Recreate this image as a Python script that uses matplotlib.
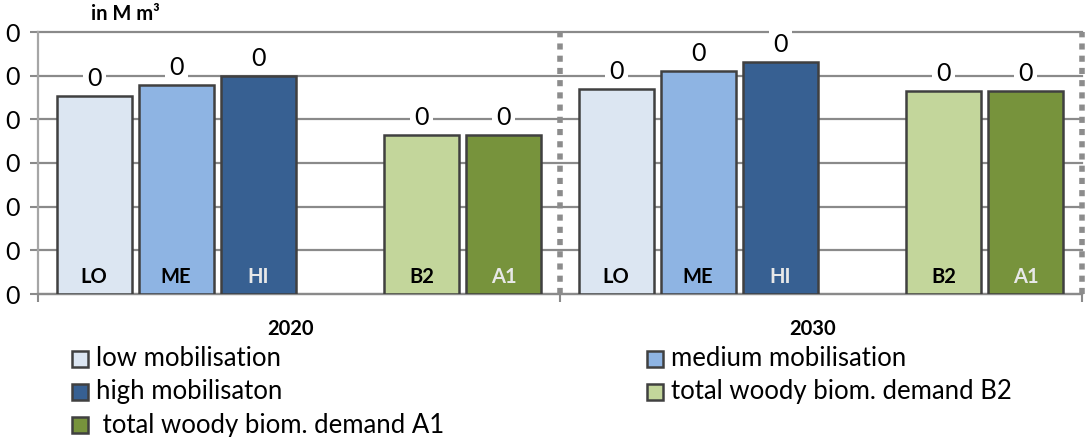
import matplotlib
matplotlib.use("Agg")
import matplotlib.pyplot as plt
from matplotlib.patches import Rectangle

plt.rcParams['font.family'] = ['Lato', 'DejaVu Sans']

# ---- data ----
groups = ["2020", "2030"]
series = ["low mobilisation", "medium mobilisation", "high mobilisaton",
          "total woody biom. demand B2", " total woody biom. demand A1"]
short = ["LO", "ME", "HI", "B2", "A1"]
values_2020 = [45.3, 47.8, 49.9, 36.4, 36.4]
values_2030 = [46.9, 51.0, 53.1, 46.5, 46.5]
value_labels = ["0", "0", "0", "0", "0"]
ytick_vals = [0, 10, 20, 30, 40, 50, 60]
ytick_labels = ["0", "0", "0", "0", "0", "0", "0"]
unit_label = "in M m³"

colors = ["#dce6f2", "#8eb4e3", "#376092", "#c3d69b", "#77933c"]
short_colors = ["black", "black", "#e8e8e8", "black", "#e8e8e8"]
slots = [0, 1, 2, 4, 5]
slot_w = 0.157
bar_w = 0.1437
grid_c = "#8a8a8a"

W, H = 1086, 437
fig = plt.figure(figsize=(W / 100, H / 100), dpi=100)
ax = fig.add_axes([38 / W, 1 - 294 / H, 1044 / W, 262 / H])
ax.set_xlim(0, 2)
ax.set_ylim(0, 60)

for gi, vals in enumerate([values_2020, values_2030]):
    for si, v in enumerate(vals):
        xc = gi + 0.5 + (slots[si] - 2.5) * slot_w
        ax.bar(xc, v, width=bar_w, color=colors[si], edgecolor="#404040",
               linewidth=1.8, zorder=3)
        ax.text(xc, v + 1.4, value_labels[si], ha="center", va="bottom",
                fontsize=18, color="black", zorder=4,
                bbox=dict(facecolor="white", edgecolor="none", pad=3))
        ax.text(xc, 3.9, short[si], ha="center", va="center", fontsize=14.5,
                fontweight="bold", color=short_colors[si], zorder=4)
    ax.text(gi + 0.5 - 0.017, -8.0, groups[gi], ha="center", va="center",
            fontsize=14.5, fontweight="bold")

ax.set_yticks(ytick_vals)
ax.set_yticklabels(ytick_labels, fontsize=18)
ax.yaxis.grid(True, color=grid_c, linewidth=1.6, zorder=0)
for g in ax.get_ygridlines():
    g.set_clip_on(False)
ax.set_axisbelow(True)
ax.set_xticks([0, 1, 2])
ax.set_xticklabels([])
ax.tick_params(axis="x", length=6, width=1.5, color=grid_c)
ax.tick_params(axis="y", length=6, width=1.5, color=grid_c, pad=7)

for s in ["top", "right"]:
    ax.spines[s].set_visible(False)
ax.spines["left"].set_color("#a6a6a6")
ax.spines["left"].set_linewidth(1.6)
ax.spines["bottom"].set_color(grid_c)
ax.spines["bottom"].set_linewidth(1.6)

for xv in [1, 2]:
    ax.axvline(xv, ymin=0, ymax=1, color="#8c8c8c", linewidth=4.0,
               linestyle=(0, (1.1, 1.1)), dash_capstyle="butt", zorder=2,
               clip_on=False)

fig.text(125 / W, 1 - 14 / H, unit_label, ha="center", va="center",
         fontsize=14.5, fontweight="bold")

# legend (manual layout, 2 columns)
rows_y = [359, 392, 425]
col_x = [80, 655]
for i, name in enumerate(series):
    col = i % 2
    row = i // 2
    cx, cy = col_x[col], rows_y[row]
    fig.patches.append(Rectangle(((cx - 8) / W, 1 - (cy + 8) / H), 16 / W, 16 / H,
                                 transform=fig.transFigure, facecolor=colors[i],
                                 edgecolor="#404040", linewidth=1.8))
    fig.text((cx + 16) / W, 1 - cy / H, name, ha="left", va="center",
             fontsize=18.5)

fig.savefig("out.png", dpi=100)
